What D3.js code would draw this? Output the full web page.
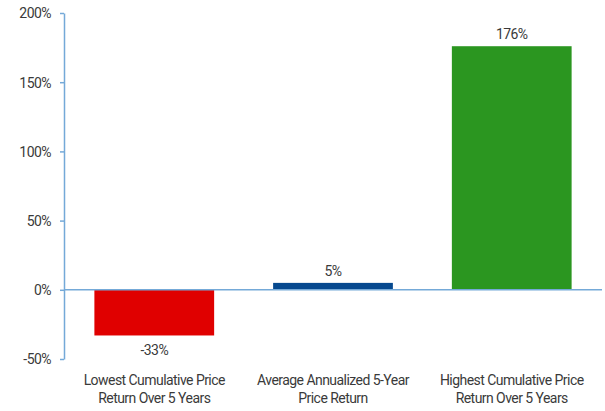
<!DOCTYPE html>
<html>
<head>
<meta charset="utf-8">
<script src="https://cdn.jsdelivr.net/npm/d3@7"></script>
<style>
  body { margin: 0; background: #fff; }
  text { font-family: Roboto, "Liberation Sans", sans-serif; fill: #3a3a3a; letter-spacing: -0.55px; }
</style>
</head>
<body>
<svg id="chart" width="605" height="411"></svg>
<script>
// chart data
var categories = [
  ["Lowest Cumulative Price", "Return Over 5 Years"],
  ["Average Annualized 5-Year", "Price Return"],
  ["Highest Cumulative Price", "Return Over 5 Years"]
];
var values = [-33, 5, 176];
var barColors = ["#e00000", "#06498f", "#2b9620"];
var yTicks = [-50, 0, 50, 100, 150, 200];

var svg = d3.select("#chart");

var y = d3.scaleLinear().domain([-50, 200]).range([359, 13]);
var x = d3.scaleBand().domain(d3.range(categories.length))
  .range([64, 602]).paddingInner(0.33).paddingOuter(0.17);

var axisColor = "#74a9d8";

// y axis
var yAxis = d3.axisLeft(y).tickValues(yTicks).tickSize(4).tickSizeOuter(0)
  .tickFormat(function(d){ return d + "%"; });
var gy = svg.append("g").attr("transform", "translate(64,0)").call(yAxis);
gy.select(".domain").attr("stroke", axisColor).attr("stroke-width", 1.5);
gy.selectAll(".tick line").attr("stroke", axisColor).attr("stroke-width", 1.5);
gy.selectAll(".tick text").attr("x", -13).attr("dy", "0.35em")
  .style("font-size", "14px").attr("fill", "#3a3a3a");

// bars
svg.selectAll("rect.bar").data(values).enter()
  .append("rect").attr("class", "bar")
  .attr("x", function(d, i){ return x(i); })
  .attr("width", x.bandwidth())
  .attr("y", function(d){ return y(Math.max(0, d)); })
  .attr("height", function(d){ return Math.abs(y(d) - y(0)); })
  .style("fill", function(d, i){ return barColors[i]; });

// zero line
svg.append("line")
  .attr("x1", 64).attr("x2", 602)
  .attr("y1", y(0)).attr("y2", y(0))
  .attr("stroke", axisColor).attr("stroke-width", 1.5);

// value labels
svg.selectAll("text.val").data(values).enter()
  .append("text").attr("class", "val")
  .attr("x", function(d, i){ return x(i) + x.bandwidth() / 2; })
  .attr("y", function(d){ return d >= 0 ? y(d) - 7 : y(d) + 20; })
  .attr("text-anchor", "middle")
  .style("font-size", "14px")
  .text(function(d){ return d + "%"; });

// category labels
var cat = svg.selectAll("text.cat").data(categories).enter()
  .append("text").attr("class", "cat")
  .attr("text-anchor", "middle")
  .style("font-size", "14px");
cat.selectAll("tspan").data(function(d, i){ return d.map(function(t){ return {t: t, i: i}; }); })
  .enter().append("tspan")
  .attr("x", function(d){ return x(d.i) + x.bandwidth() / 2; })
  .attr("y", function(d, j){ return 385 + j * 18; })
  .text(function(d){ return d.t; });
</script>
</body>
</html>
